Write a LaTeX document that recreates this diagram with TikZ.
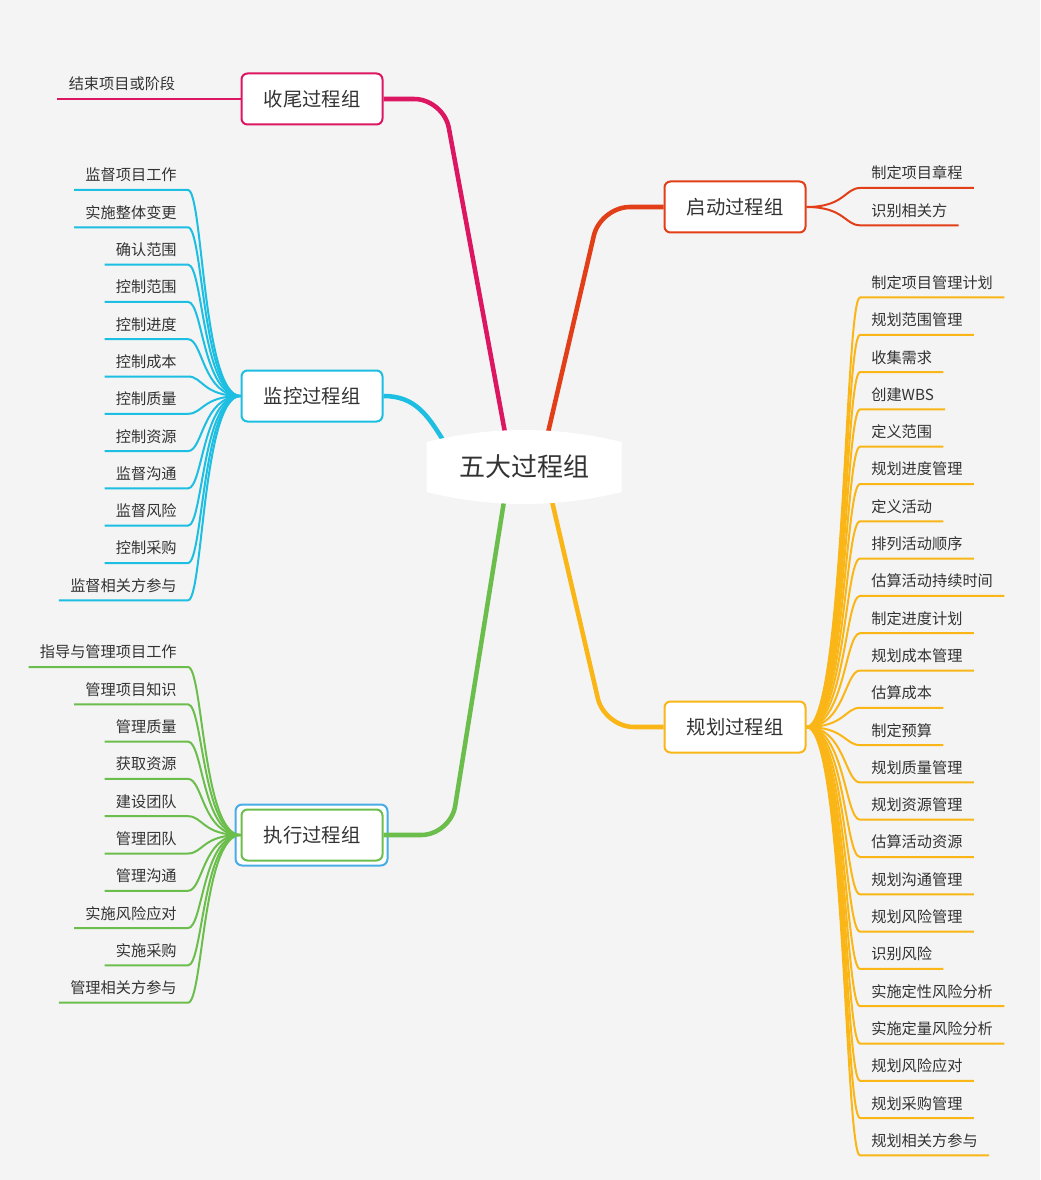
\documentclass[tikz,border=0pt]{standalone}
\usepackage{fontspec}
\setmainfont{Noto Sans CJK SC}
\usetikzlibrary{calc,backgrounds}
\definecolor{BgClr}{RGB}{244,244,244}
\definecolor{TxtClr}{RGB}{51,51,51}
\definecolor{CloseClr}{RGB}{221,22,98}
\definecolor{StartClr}{RGB}{226,62,24}
\definecolor{MonClr}{RGB}{28,190,226}
\definecolor{ExecClr}{RGB}{108,190,76}
\definecolor{PlanClr}{RGB}{250,182,22}
\definecolor{SelClr}{RGB}{72,172,230}

\begin{document}
\begin{tikzpicture}[x=0.75pt,y=-0.75pt,
  hub/.style={minimum width=146.25pt,minimum height=55.5pt,inner sep=0pt,text=TxtClr,font=\fontsize{19.5}{22}\selectfont},
  procbox/.style={draw=#1,fill=white,line width=1.5pt,rounded corners=4.5pt,minimum width=105.75pt,minimum height=38.25pt,inner sep=0pt,text=TxtClr,font=\fontsize{14.5}{17}\selectfont},
  leafR/.style={anchor=south west,inner xsep=8.3pt,inner ysep=6.6pt,text height=9pt,text depth=0pt,text=TxtClr,font=\fontsize{11.4}{13}\selectfont},
  leafL/.style={leafR,anchor=south east},
  twig/.style={draw=#1,line width=1.5pt},
  trunk/.style={draw=#1,line width=3.4pt,rounded corners=22pt}]
\useasboundingbox (0,0) rectangle (1040,1180);

% Κεντρικός κόμβος.
\coordinate (hubc) at (524,467);
\fill[white] ($(hubc)+(-97.5,-25)$) -- ($(hubc)+(-97.5,25)$)
  .. controls ($(hubc)+(-32.5,41)$) and ($(hubc)+(32.5,41)$) .. ($(hubc)+(97.5,25)$)
  -- ($(hubc)+(97.5,-25)$)
  .. controls ($(hubc)+(32.5,-41)$) and ($(hubc)+(-32.5,-41)$) .. cycle;
\node[hub] (hub) at (hubc) {五大过程组};

% Οι πέντε ομάδες.
\node[procbox=CloseClr] (close) at (312,99) {收尾过程组};
\node[procbox=StartClr] (start) at (735,207) {启动过程组};
\node[procbox=MonClr] (mon) at (312,396) {监控过程组};
\node[procbox=ExecClr] (exec) at (312,835) {执行过程组};
\node[procbox=PlanClr] (plan) at (735,727) {规划过程组};

\begin{scope}[on background layer]
\fill[BgClr] (0,0) rectangle (1040,1180);
\draw[SelClr,line width=1.5pt,fill=white,rounded corners=5pt] ($(exec.north west)+(-5,-4)$) rectangle ($(exec.south east)+(4,4)$);

% Κύριοι κλάδοι.
\draw[trunk=CloseClr] ($(hub.north)+(-19,3)$) -- ($(close.east)+(60,0)$) -- (close.east);
\draw[trunk=StartClr] ($(hub.north)+(24,3)$) -- ($(start.west)+(-63,0)$) -- (start.west);
\draw[trunk=MonClr] (mon.east) .. controls +(32,0) and +(-17,-28) .. ($(hub.north west)+(19,14)$);
\draw[trunk=ExecClr] ($(hub.south)+(-20,-3)$) -- ($(exec.east)+(67,0)$) -- (exec.east);
\draw[trunk=PlanClr] ($(hub.south)+(28,-3)$) -- ($(plan.west)+(-59,0)$) -- (plan.west);

% Φύλλα.
\node[leafL] (c1) at ($(close.west)+(-54,0)$) {结束项目或阶段};
\draw[twig=CloseClr] (close.west) -- (c1.south east) -- (c1.south west);

\foreach \txt [count=\i] in {制定项目章程,识别相关方} {
  \node[leafR] (s\i) at (860,{150.7+37.3*\i}) {\txt};
  \draw[twig=StartClr] (start.east) .. controls +(38,0) and +(-15,0) .. (s\i.south west) -- (s\i.south east);
}

\foreach \txt [count=\i] in {监督项目工作,实施整体变更,确认范围,控制范围,控制进度,控制成本,控制质量,控制资源,监督沟通,监督风险,控制采购,监督相关方参与} {
  \node[leafL] (m\i) at (188,{152.7+37.3*\i}) {\txt};
  \draw[twig=MonClr] (mon.west) .. controls +(-38,0) and +(15,0) .. (m\i.south east) -- (m\i.south west);
}

\foreach \txt [count=\i] in {指导与管理项目工作,管理项目知识,管理质量,获取资源,建设团队,管理团队,管理沟通,实施风险应对,实施采购,管理相关方参与} {
  \node[leafL] (e\i) at (188,{629.7+37.3*\i}) {\txt};
  \draw[twig=ExecClr] (exec.west) .. controls +(-38,0) and +(15,0) .. (e\i.south east) -- (e\i.south west);
}

\foreach \txt [count=\i] in {制定项目管理计划,规划范围管理,收集需求,创建WBS,定义范围,规划进度管理,定义活动,排列活动顺序,估算活动持续时间,制定进度计划,规划成本管理,估算成本,制定预算,规划质量管理,规划资源管理,估算活动资源,规划沟通管理,规划风险管理,识别风险,实施定性风险分析,实施定量风险分析,规划风险应对,规划采购管理,规划相关方参与} {
  \node[leafR] (p\i) at (860,{260.2+37.3*\i}) {\txt};
  \draw[twig=PlanClr] (plan.east) .. controls +(38,0) and +(-15,0) .. (p\i.south west) -- (p\i.south east);
}
\end{scope}

\end{tikzpicture}
\end{document}
